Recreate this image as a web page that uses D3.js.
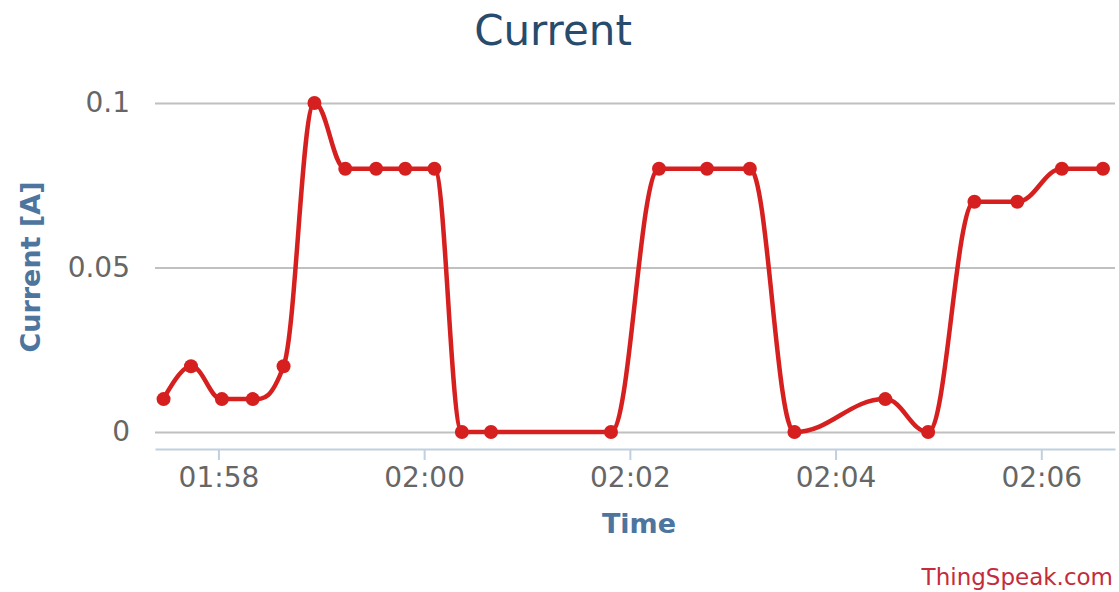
<!DOCTYPE html>
<html>
<head>
<meta charset="utf-8">
<script src="https://cdn.jsdelivr.net/npm/d3@7"></script>
<style>
  body { margin: 0; background: #fff; }
  svg { display: block; font-family: "DejaVu Sans", sans-serif; }
</style>
</head>
<body>
<div id="chart"></div>
<script>
/* ThingSpeak style "Current" spline chart */

const times = ["01:57:28", "01:57:44", "01:58:02", "01:58:20", "01:58:38", "01:58:56",
               "01:59:14", "01:59:32", "01:59:49", "02:00:06", "02:00:22", "02:00:39",
               "02:01:49", "02:02:17", "02:02:45", "02:03:10", "02:03:36", "02:04:29",
               "02:04:54", "02:05:21", "02:05:46", "02:06:12", "02:06:36"];
const current = [0.01, 0.02, 0.01, 0.01, 0.02, 0.1,
                 0.08, 0.08, 0.08, 0.08, 0, 0,
                 0, 0.08, 0.08, 0.08, 0, 0.01,
                 0, 0.07, 0.07, 0.08, 0.08];
const yTicks = [0, 0.05, 0.1];
const yTickLabels = ["0", "0.05", "0.1"];
const xStart = "01:57:23", xEnd = "02:06:43";

const width = 1119,
      height = 592,
      margin = ({ top: 103, right: 4, bottom: 143, left: 155 });

const parse = d3.timeParse("%H:%M:%S");
const data = times.map((t, i) => ({ t: parse(t), v: current[i] }));

// Highcharts-like spline (smoothing 1.5, no false extremes)
function curveHighSpline(context) {
    let pts;
    return {
        areaStart() {}, areaEnd() {},
        lineStart() { pts = []; },
        point(x, y) { pts.push([+x, +y]); },
        lineEnd() {
            const n = pts.length, s = 1.5, den = s + 1;
            if (!n) return;
            context.moveTo(pts[0][0], pts[0][1]);
            let prevR = null;
            for (let i = 1; i < n; i++) {
                const [x, y] = pts[i];
                let lx = x, ly = y, rx = null, ry = null;
                if (i < n - 1) {
                    const [x0, y0] = pts[i - 1], [x1, y1] = pts[i + 1];
                    lx = (s * x + x0) / den; ly = (s * y + y0) / den;
                    rx = (s * x + x1) / den; ry = (s * y + y1) / den;
                    if (rx !== lx) {
                        const corr = (ry - ly) * (rx - x) / (rx - lx) + y - ry;
                        ly += corr; ry += corr;
                    }
                    if (ly > y0 && ly > y) { ly = Math.max(y0, y); ry = 2 * y - ly; }
                    else if (ly < y0 && ly < y) { ly = Math.min(y0, y); ry = 2 * y - ly; }
                    if (ry > y1 && ry > y) { ry = Math.max(y1, y); ly = 2 * y - ry; }
                    else if (ry < y1 && ry < y) { ry = Math.min(y1, y); ly = 2 * y - ry; }
                }
                const c1 = prevR || pts[i - 1];
                context.bezierCurveTo(c1[0], c1[1], lx, ly, x, y);
                prevR = rx === null ? null : [rx, ry];
            }
        }
    };
}

let svg = d3.select("#chart")
    .append("svg")
    .attr("width", width)
    .attr("height", height)
    .attr("viewBox", [0, 0, width, height]);

let x = d3.scaleTime()
    .domain([parse(xStart), parse(xEnd)])
    .range([margin.left, width - margin.right]);

let y = d3.scaleLinear()
    .domain([0, 0.1])
    .range([432, margin.top]);

const plotBottom = height - margin.bottom;

// gridlines + y labels
let yAxis = svg.append("g")
    .attr("transform", `translate(${margin.left},0)`)
    .call(d3.axisLeft(y)
        .tickValues(yTicks)
        .tickFormat((d, i) => yTickLabels[i])
        .tickSize(-(width - margin.left - margin.right))
        .tickPadding(25));
yAxis.select(".domain").remove();
yAxis.selectAll(".tick line").attr("stroke", "#c0c0c0").attr("stroke-width", 2);
yAxis.selectAll(".tick text")
    .attr("fill", "#666")
    .style("font-size", "28px")
    .style("font-family", "DejaVu Sans");

// x axis
let xAxis = svg.append("g")
    .attr("transform", `translate(0,${plotBottom})`)
    .call(d3.axisBottom(x)
        .ticks(d3.timeMinute.every(2))
        .tickFormat(d3.timeFormat("%H:%M"))
        .tickSizeInner(11)
        .tickSizeOuter(0)
        .tickPadding(7));
xAxis.select(".domain").attr("stroke", "#c0d0e0").attr("stroke-width", 2);
xAxis.selectAll(".tick line").attr("stroke", "#c0d0e0").attr("stroke-width", 2);
xAxis.selectAll(".tick text")
    .attr("fill", "#666")
    .style("font-size", "28px")
    .style("font-family", "DejaVu Sans");

// the line
let line = d3.line()
    .x(d => x(d.t))
    .y(d => y(d.v))
    .curve(curveHighSpline);

svg.append("path")
    .datum(data)
    .attr("fill", "none")
    .attr("stroke", "#d62020")
    .attr("stroke-width", 4.5)
    .attr("stroke-linejoin", "round")
    .attr("d", line);

svg.selectAll(".dot")
    .data(data)
    .join("circle")
    .attr("class", "dot")
    .attr("cx", d => x(d.t))
    .attr("cy", d => y(d.v))
    .attr("r", 7)
    .attr("fill", "#d62020");

// titles
svg.append("text")
    .attr("x", 553)
    .attr("y", 45)
    .attr("text-anchor", "middle")
    .attr("fill", "#274b6d")
    .style("font-size", "42px")
    .text("Current");

svg.append("text")
    .attr("transform", "translate(40,267) rotate(-90)")
    .attr("text-anchor", "middle")
    .attr("fill", "#4d759e")
    .style("font-size", "27px")
    .style("font-weight", "bold")
    .text("Current [A]");

svg.append("text")
    .attr("x", 639)
    .attr("y", 533)
    .attr("text-anchor", "middle")
    .attr("fill", "#4d759e")
    .style("font-size", "27px")
    .style("font-weight", "bold")
    .text("Time");

svg.append("text")
    .attr("x", 1113)
    .attr("y", 585)
    .attr("text-anchor", "end")
    .attr("fill", "#c42b3b")
    .style("font-size", "23px")
    .text("ThingSpeak.com");
</script>
</body>
</html>
